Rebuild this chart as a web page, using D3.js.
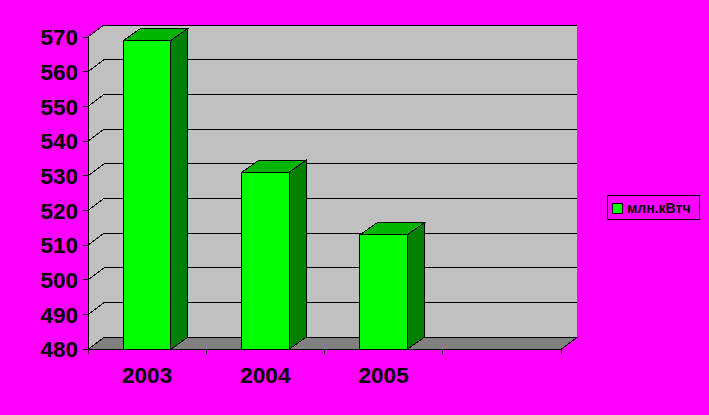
<!DOCTYPE html>
<html><head><meta charset="utf-8">
<script src="https://cdn.jsdelivr.net/npm/d3@7"></script>
<style>html,body{margin:0;padding:0;background:#ff00ff;overflow:hidden}</style>
</head><body>
<svg id="c" width="709" height="415"></svg>
<script>
const categories = ["2003", "2004", "2005", ""];
const values = [569, 531, 513, null];
const yTicks = [480, 490, 500, 510, 520, 530, 540, 550, 560, 570];
const seriesName = "млн.кВтч";

const svg = d3.select("#c");
svg.append("rect").attr("width",709).attr("height",415).attr("fill","#ff00ff");

const left = 88, right = 561, depthX = 16, depthY = 12, barDX = 17, barDY = 12;
const x = d3.scaleBand().domain(d3.range(categories.length)).range([left, right]).padding(0);
const y = d3.scaleLinear().domain([480, 570]).range([349.3, 37]);
const y0 = y(480), yTop = y(570);

const g = svg.append("g").attr("shape-rendering","crispEdges");
const line = (x1,y1,x2,y2) => g.append("line").attr("x1",x1).attr("y1",y1).attr("x2",x2).attr("y2",y2).attr("stroke","#000").attr("stroke-width",1);
const poly = (pts, fill) => g.append("polygon").attr("points", pts.map(p=>p.join(",")).join(" ")).attr("fill",fill).attr("stroke","#000").attr("stroke-width",1).attr("stroke-linejoin","miter");

// back wall
g.append("rect").attr("x",left+depthX).attr("y",yTop-depthY).attr("width",right-left).attr("height",y0-yTop).attr("fill","#c0c0c0");
// left wall
g.append("polygon").attr("points",[[left,yTop],[left+depthX,yTop-depthY],[left+depthX,y0-depthY],[left,y0]].map(p=>p.join(",")).join(" ")).attr("fill","#c0c0c0");
// floor
poly([[left,y0],[left+depthX,y0-depthY],[right+depthX,y0-depthY],[right,y0]], "#808080");
// top border of back wall
line(left+depthX, yTop-depthY, right+depthX, yTop-depthY);
line(left, yTop, left+depthX, yTop-depthY);
// gridlines
yTicks.forEach(t => {
  const yy = y(t);
  line(left, yy, left+depthX, yy-depthY);
  line(left+depthX, yy-depthY, right+depthX, yy-depthY);
});

// bars
const bw = x.bandwidth();
values.forEach((v, i) => {
  if (v == null) return;
  const x0 = x(i) + bw*0.3, x1 = x(i) + bw*0.7, yv = y(v);
  poly([[x0,yv],[x1,yv],[x1,y0],[x0,y0]], "#00ff00");
  poly([[x0,yv],[x0+barDX,yv-barDY],[x1+barDX,yv-barDY],[x1,yv]], "#00b400");
  poly([[x1,yv],[x1+barDX,yv-barDY],[x1+barDX,y0-barDY],[x1,y0]], "#008000");
});

// axes
line(left, yTop, left, y0);
line(left, y0, right, y0);
line(right, y0, right+depthX, y0-depthY);
yTicks.forEach(t => line(left-5, y(t), left, y(t)));
d3.range(categories.length+1).forEach(i => {
  const xx = i < categories.length ? x(i) : right;
  line(xx, y0, xx, y0+5);
});

// labels
const font = "'Liberation Sans', Arial, sans-serif";
svg.append("g").selectAll("text").data(yTicks).join("text")
  .attr("x", 78).attr("y", d => y(d)).attr("dy","0.36em")
  .attr("text-anchor","end").attr("font-family",font).attr("font-weight","bold")
  .attr("font-size","22.5px").attr("fill","#000").text(d => d);
svg.append("g").selectAll("text").data(categories).join("text")
  .attr("x", (d,i) => x(i) + bw/2).attr("y", 382.7)
  .attr("text-anchor","middle").attr("font-family",font).attr("font-weight","bold")
  .attr("font-size","22.5px").attr("fill","#000").text(d => d);

// legend
const lg = svg.append("g").attr("shape-rendering","crispEdges");
lg.append("rect").attr("x",607.5).attr("y",195.5).attr("width",92).attr("height",24).attr("fill","none").attr("stroke","#000");
lg.append("rect").attr("x",612.5).attr("y",203.5).attr("width",10).attr("height",10).attr("fill","#00ff00").attr("stroke","#000");
svg.append("text").attr("x",627).attr("y",213).attr("font-family",font).attr("font-weight","bold")
  .attr("font-size","14px").attr("fill","#000").text(seriesName);
</script>
</body></html>
